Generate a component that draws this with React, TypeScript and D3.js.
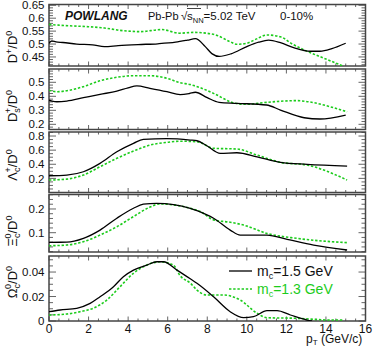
import * as d3 from "d3";

type Pt = [number, number];

// pT (GeV/c) vs ratio; "15" = m_c 1.5 GeV, "13" = m_c 1.3 GeV
const dPlus15: Pt[] = [[0, 0.503], [0.15, 0.512], [0.35, 0.508], [0.7, 0.506], [1.4, 0.5], [2.2, 0.497], [2.8, 0.49], [3.5, 0.494], [4.5, 0.498], [5.5, 0.501], [6.4, 0.507], [7.0, 0.515], [7.4, 0.521], [7.9, 0.49], [8.25, 0.462], [8.6, 0.452], [9.2, 0.462], [10.0, 0.49], [10.6, 0.507], [11.1, 0.515], [11.7, 0.505], [12.4, 0.485], [13.2, 0.472], [13.7, 0.472], [14.3, 0.482], [15.0, 0.503]];
const dPlus13: Pt[] = [[0, 0.576], [0.5, 0.573], [1.2, 0.57], [2.0, 0.567], [2.8, 0.562], [3.6, 0.553], [4.6, 0.548], [5.7, 0.556], [6.6, 0.542], [7.3, 0.545], [8.3, 0.538], [9.16, 0.509], [9.5, 0.499], [10.0, 0.503], [10.5, 0.52], [11.0, 0.535], [11.7, 0.528], [12.3, 0.5], [12.9, 0.477], [13.9, 0.445], [14.9, 0.414]];

const ds15: Pt[] = [[0, 0.372], [0.15, 0.366], [0.4, 0.361], [0.9, 0.366], [1.74, 0.39], [2.58, 0.414], [3.43, 0.437], [4.0, 0.46], [4.44, 0.474], [5.1, 0.457], [5.96, 0.433], [6.63, 0.412], [7.1, 0.42], [7.4, 0.429], [8.0, 0.39], [8.6, 0.357], [9.5, 0.35], [11.0, 0.338], [11.7, 0.302], [12.9, 0.247], [13.7, 0.238], [15.0, 0.266]];
const ds13: Pt[] = [[0, 0.444], [0.39, 0.433], [0.9, 0.44], [1.74, 0.469], [2.58, 0.511], [3.43, 0.536], [4.27, 0.547], [5.11, 0.547], [5.96, 0.529], [6.63, 0.497], [7.14, 0.484], [7.65, 0.461], [8.32, 0.421], [9.42, 0.35], [10.0, 0.343], [11.0, 0.357], [12.5, 0.369], [13.4, 0.354], [14.2, 0.326], [15.07, 0.29]];

const lc15: Pt[] = [[0, 0.237], [0.9, 0.247], [1.74, 0.294], [2.58, 0.413], [3.43, 0.577], [4.27, 0.696], [4.77, 0.753], [5.96, 0.762], [7.14, 0.743], [7.48, 0.733], [7.98, 0.662], [8.66, 0.555], [9.5, 0.563], [10.52, 0.506], [11.7, 0.427], [13.05, 0.399], [15.07, 0.374]];
const lc13: Pt[] = [[0, 0.176], [0.9, 0.19], [1.74, 0.247], [2.58, 0.365], [3.43, 0.484], [4.27, 0.587], [5.11, 0.672], [5.96, 0.71], [6.63, 0.726], [7.48, 0.72], [8.32, 0.626], [9.5, 0.616], [10.52, 0.53], [11.7, 0.427], [13.05, 0.389], [13.89, 0.318], [15.07, 0.176]];

const xi15: Pt[] = [[0, 0.0595], [0.9, 0.06], [1.74, 0.076], [2.58, 0.111], [3.43, 0.161], [4.27, 0.203], [4.77, 0.22], [5.45, 0.224], [7.14, 0.203], [7.48, 0.193], [8.32, 0.161], [9.16, 0.111], [9.67, 0.09], [11.02, 0.09], [12.04, 0.072], [13.38, 0.048], [15.07, 0.027]];
const xi13: Pt[] = [[0, 0.045], [0.9, 0.048], [1.74, 0.062], [2.58, 0.09], [3.43, 0.125], [4.27, 0.168], [5.11, 0.208], [5.6, 0.221], [7.14, 0.203], [7.65, 0.189], [8.32, 0.154], [9.16, 0.144], [9.84, 0.132], [11.02, 0.097], [12.54, 0.076], [15.07, 0.058]];

const om15: Pt[] = [[0, 0.0076], [0.56, 0.009], [1.4, 0.0104], [2.08, 0.0144], [2.58, 0.0198], [3.26, 0.028], [3.76, 0.0362], [4.27, 0.0416], [4.95, 0.0457], [5.45, 0.0484], [5.79, 0.0484], [6.47, 0.0416], [7.14, 0.0345], [7.48, 0.0308], [8.32, 0.0198], [9.16, 0.0076], [9.84, 0.0027], [10.34, 0.0035], [11.02, 0.0084], [11.53, 0.0084], [12.2, 0.0049], [13.05, 0.0008], [13.3, 0]];
const om13: Pt[] = [[0, 0.0049], [0.9, 0.0057], [1.57, 0.0076], [2.24, 0.0104], [2.92, 0.0171], [3.59, 0.028], [4.27, 0.039], [4.95, 0.0457], [5.62, 0.0484], [6.29, 0.0457], [6.63, 0.037], [7.14, 0.031], [7.48, 0.0253], [7.98, 0.0212], [8.83, 0.0212], [9.67, 0.0171], [10.52, 0.0063], [11.02, 0.0027], [12.54, 0.0022], [14.23, 0.0008], [14.89, 0.0008]];

const xTicks = [0, 2, 4, 6, 8, 10, 12, 14, 16];
const dPlusTicks = [0.45, 0.5, 0.55, 0.6, 0.65];
const dsTicks = [0.2, 0.3, 0.4, 0.5];
const lcTicks = [0.2, 0.4, 0.6, 0.8];
const xiTicks = [0.1, 0.2];
const omTicks = [0, 0.02, 0.04];

const W = 374;
const H = 347;
const x0 = 49;
const x1 = 365.5;
const black = "#000";
const green = "#1ccc1c";
const frameColor = "#444";
const tickColor = "#666";
const font = "'Liberation Sans', Arial, sans-serif";

const x = d3.scaleLinear().domain([0, 16]).range([x0, x1]);

// title pieces: [text, dx, dy, small]
type Seg = [string, number, number, boolean];
const ratioTitle = (base: string, sb: string | null, sp: string): Seg[] =>
  sb
    ? [[base, 0, 0, false], [sb, 0, 3, true], [sp, -5, -9, true], ["/D", 0, 6, false], ["0", 0, -5, true]]
    : [[base, 0, 0, false], [sp, 0, -5, true], ["/D", 0, 5, false], ["0", 0, -5, true]];

const panels = [
  { top: 4.5, bottom: 66, domain: [0.415, 0.653], ticks: dPlusTicks, minor: 0.01, titleY: 47, a: dPlus15, b: dPlus13, title: ratioTitle("D", null, "+") },
  { top: 69, bottom: 129.5, domain: [0.163, 0.595], ticks: dsTicks, minor: 0.02, titleY: 106, a: ds15, b: ds13, title: ratioTitle("D", "s", "+") },
  { top: 132, bottom: 192.5, domain: [0, 0.857], ticks: lcTicks, minor: 0.05, titleY: 165, a: lc15, b: lc13, title: ratioTitle("Λ", "c", "+") },
  { top: 194.5, bottom: 252, domain: [0.0186, 0.261], ticks: xiTicks, minor: 0.02, titleY: 231, a: xi15, b: xi13, title: ratioTitle("Ξ", "c", "0") },
  { top: 256, bottom: 321, domain: [0, 0.0531], ticks: omTicks, minor: 0.005, titleY: 282, a: om15, b: om13, title: ratioTitle("Ω", "c", "0") },
];

const fmt = (v: number) => String(+v.toFixed(3));

export default function App() {
  const xMinor = d3.range(0, 16.01, 0.5);
  return (
    <div style={{ position: "fixed", left: 0, top: 0 }}>
      <svg width={W} height={H} style={{ display: "block", background: "#fff" }} fontFamily={font}>
        <defs>
          {panels.map((p, i) => (
            <clipPath id={`clip${i}`} key={i}>
              <rect x={x0} y={p.top} width={x1 - x0} height={p.bottom - p.top} />
            </clipPath>
          ))}
        </defs>
        {panels.map((p, i) => {
          const y = d3.scaleLinear().domain(p.domain).range([p.bottom, p.top]);
          const line = d3
            .line<Pt>()
            .x((d) => x(d[0]))
            .y((d) => y(d[1]))
            .curve(d3.curveMonotoneX);
          const minors: number[] = [];
          for (let k = Math.ceil(p.domain[0] / p.minor - 1e-6); k * p.minor <= p.domain[1] + 1e-9; k++) {
            minors.push(+(k * p.minor).toFixed(4));
          }
          return (
            <g key={i}>
              {/* y ticks left & right */}
              {minors.map((v) => {
                const isMajor = p.ticks.some((t) => Math.abs(t - v) < 1e-6);
                const len = isMajor ? 7 : 4;
                return (
                  <g key={v} stroke={tickColor} strokeWidth={1}>
                    <line x1={x0} x2={x0 + len} y1={y(v)} y2={y(v)} />
                    <line x1={x1} x2={x1 - len} y1={y(v)} y2={y(v)} />
                  </g>
                );
              })}
              {/* x ticks top & bottom */}
              {xMinor.map((v) => {
                const len = v % 2 === 0 ? 4.5 : 2.5;
                return (
                  <g key={v} stroke={tickColor} strokeWidth={1}>
                    <line x1={x(v)} x2={x(v)} y1={p.bottom} y2={p.bottom - len} />
                    <line x1={x(v)} x2={x(v)} y1={p.top} y2={p.top + len} />
                  </g>
                );
              })}
              <rect x={x0} y={p.top} width={x1 - x0} height={p.bottom - p.top} fill="none" stroke={frameColor} strokeWidth={1.5} />
              {p.ticks.map((t) => (
                <text key={t} x={44.5} y={y(t)} dy="0.36em" textAnchor="end" fontSize={11.5} fill="#111">
                  {fmt(t)}
                </text>
              ))}
              <text transform={`translate(17,${p.titleY}) rotate(-90)`} textAnchor="middle" fontSize={13} fill="#111">
                {p.title.map(([s, dx, dy, small], k) => (
                  <tspan key={k} dx={dx} dy={dy} fontSize={small ? 9 : 13}>
                    {s}
                  </tspan>
                ))}
              </text>
              <g clipPath={`url(#clip${i})`} fill="none">
                <path d={line(p.b) ?? ""} stroke={green} strokeWidth={1.6} strokeDasharray="2.4,1.8" />
                <path d={line(p.a) ?? ""} stroke={black} strokeWidth={1.3} />
              </g>
            </g>
          );
        })}
        {/* x tick labels */}
        {xTicks.map((t) => (
          <text key={t} x={x(t)} y={333} textAnchor="middle" fontSize={12} fill="#111">
            {t}
          </text>
        ))}
        <text x={306} y={343} fontSize={12} fill="#111">
          p<tspan dy={2} fontSize={8}>T</tspan>
          <tspan dy={-2}> (GeV/c)</tspan>
        </text>
        {/* header texts */}
        <text x={65} y={20} fontSize={12} fontWeight="bold" fontStyle="italic" fill="#111">POWLANG</text>
        <text x={148} y={20} fontSize={11} fill="#111">Pb-Pb</text>
        <text x={181} y={20} fontSize={11.5} fill="#111">√</text>
        <line x1={187} x2={201} y1={8.5} y2={8.5} stroke="#111" strokeWidth={0.8} />
        <text x={187} y={20} fontSize={11.5} fill="#111">
          s<tspan dy={3} fontSize={7.5}>NN</tspan>
          <tspan dy={-3}>=5.02 TeV</tspan>
        </text>
        <text x={280} y={20} fontSize={11.5} fill="#111">0-10%</text>
        {/* legend */}
        <line x1={229} x2={252} y1={271} y2={271} stroke={black} strokeWidth={1.3} />
        <text x={257} y={276} fontSize={14} fill="#111">
          m<tspan dy={3} fontSize={9}>c</tspan>
          <tspan dy={-3}>=1.5 GeV</tspan>
        </text>
        <line x1={229} x2={252} y1={289} y2={289} stroke={green} strokeWidth={1.6} strokeDasharray="2.4,1.8" />
        <text x={257} y={294} fontSize={14} fill={green}>
          m<tspan dy={3} fontSize={9}>c</tspan>
          <tspan dy={-3}>=1.3 GeV</tspan>
        </text>
      </svg>
    </div>
  );
}
